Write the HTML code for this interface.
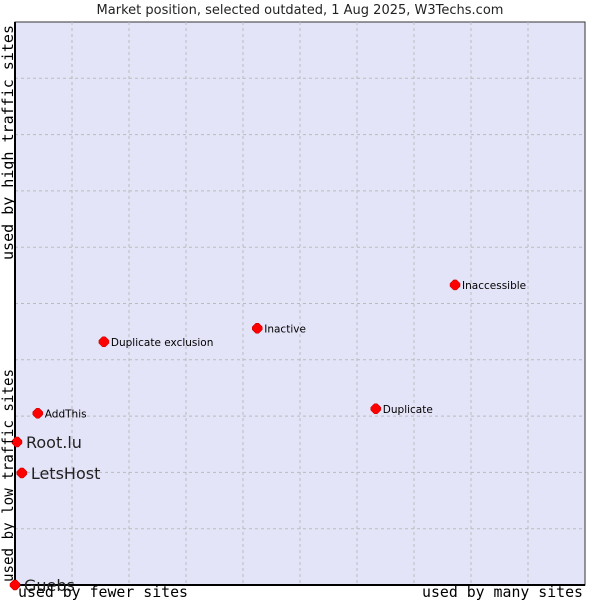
<!DOCTYPE html>
<html><head><meta charset="utf-8"><style>
body{margin:0;background:#fff;width:600px;height:600px;overflow:hidden}
svg{display:block}
</style></head><body>
<svg id="chart" width="600" height="600" xmlns="http://www.w3.org/2000/svg">
<text x="300" y="14" text-anchor="middle" font-family="DejaVu Sans, sans-serif" font-size="13" fill="#222">Market position, selected outdated, 1 Aug 2025, W3Techs.com</text>
<rect x="15" y="22" width="570" height="563" fill="#e4e4f8" stroke="#333" stroke-width="1"/>
<g id="grid"></g>
<line x1="15" y1="22" x2="15" y2="585" stroke="#000" stroke-width="2"/>
<line x1="15" y1="585" x2="585" y2="585" stroke="#000" stroke-width="2"/>
<g id="points"></g>
<text x="18" y="597" textLength="170" lengthAdjust="spacingAndGlyphs" font-family="DejaVu Sans Mono, monospace" font-size="15" fill="#000">used by fewer sites</text>
<text x="422" y="597" textLength="161" lengthAdjust="spacingAndGlyphs" font-family="DejaVu Sans Mono, monospace" font-size="15" fill="#000">used by many sites</text>
<text transform="translate(13,582) rotate(-90)" textLength="213" lengthAdjust="spacingAndGlyphs" font-family="DejaVu Sans Mono, monospace" font-size="15" fill="#000">used by low traffic sites</text>
<text transform="translate(13,260) rotate(-90)" textLength="235" lengthAdjust="spacingAndGlyphs" font-family="DejaVu Sans Mono, monospace" font-size="15" fill="#000">used by high traffic sites</text>
</svg>
<script>
const names = ["Guebs","Root.lu","LetsHost","AddThis","Duplicate exclusion","Inactive","Duplicate","Inaccessible"];
const xValues = [0,0.35,1.2,4,15.6,42.5,63.3,77.2];
const yValues = [0,25.4,19.9,30.5,43.2,45.6,31.3,53.3];
const bigLabel = [true,true,true,false,false,false,false,false];
const NS="http://www.w3.org/2000/svg";
const L=15,T=22,W=570,H=563;
const sx=v=>L+v/100*W, sy=v=>T+H-v/100*H;
const grid=document.getElementById('grid');
for(let i=1;i<10;i++){
  const v=document.createElementNS(NS,'line');
  v.setAttribute('x1',sx(i*10));v.setAttribute('x2',sx(i*10));v.setAttribute('y1',T);v.setAttribute('y2',T+H);
  v.setAttribute('stroke','#bbb');v.setAttribute('stroke-dasharray','3,3');
  
  
  grid.appendChild(v);
  const h=document.createElementNS(NS,'line');
  h.setAttribute('y1',sy(i*10));h.setAttribute('y2',sy(i*10));h.setAttribute('x1',L);h.setAttribute('x2',L+W);
  h.setAttribute('stroke','#bbb');h.setAttribute('stroke-dasharray','3,3');
  
  
  grid.appendChild(h);
}
const pts=document.getElementById('points');
names.forEach((n,i)=>{
  const x=sx(xValues[i]),y=sy(yValues[i]);
  const d=document.createElementNS(NS,'path');
  d.setAttribute('d',`M${x-5},${y-1.5} L${x-1.5},${y-5} L${x+1.5},${y-5} L${x+5},${y-1.5} L${x+5},${y+1.5} L${x+1.5},${y+5} L${x-1.5},${y+5} L${x-5},${y+1.5} Z`);
  d.setAttribute('fill','#f00');d.setAttribute('stroke','#b00');d.setAttribute('stroke-width','0.5');
  
  
  pts.appendChild(d);
  const t=document.createElementNS(NS,'text');
  const big=bigLabel[i];
  t.setAttribute('x',x+(big?9:7));t.setAttribute('y',y+(big?6:4));
  t.setAttribute('font-family','DejaVu Sans, sans-serif');
  t.setAttribute('font-size',big?'16':'10.5');
  t.setAttribute('fill',big?'#222':'#000');
  t.textContent=n;
  
  
  pts.appendChild(t);
});
</script>
</body></html>
